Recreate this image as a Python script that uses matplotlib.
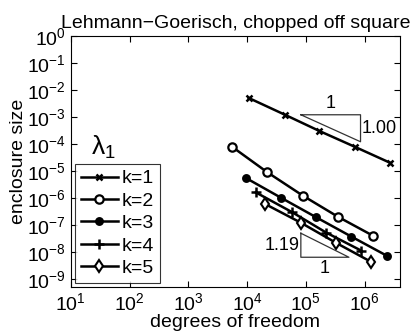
import matplotlib
matplotlib.use("Agg")
import matplotlib.pyplot as plt
import numpy as np

plt.rcParams['font.family'] = ['Liberation Sans', 'DejaVu Sans']
plt.rcParams['mathtext.fontset'] = 'custom'
plt.rcParams['mathtext.rm'] = 'Liberation Sans'
plt.rcParams['mathtext.it'] = 'Liberation Sans:italic'
plt.rcParams['mathtext.default'] = 'regular'

labels = ['k=1', 'k=2', 'k=3', 'k=4', 'k=5']
dof_k1 = [1.07e4, 4.4e4, 1.7e5, 6.8e5, 2.7e6]
err_k1 = [5.0e-3, 1.2e-3, 3.0e-4, 7.8e-5, 2.0e-5]
dof_k2 = [5.5e3, 2.2e4, 8.9e4, 3.5e5, 1.4e6]
err_k2 = [7.9e-5, 8.9e-6, 1.2e-6, 2.0e-7, 3.9e-8]
dof_k3 = [9.6e3, 3.8e4, 1.5e5, 5.9e5, 2.4e6]
err_k3 = [5.4e-6, 1.0e-6, 1.9e-7, 3.7e-8, 7.1e-9]
dof_k4 = [1.4e4, 5.9e4, 2.2e5, 8.8e5]
err_k4 = [1.6e-6, 2.9e-7, 5.2e-8, 1.1e-8]
dof_k5 = [2.0e4, 8.2e4, 3.2e5, 1.3e6]
err_k5 = [6.0e-7, 1.2e-7, 2.2e-8, 4.2e-9]

# slope triangles
tri1_x = [8.2e4, 8.5e5, 8.5e5, 8.2e4]
tri1_y = [1.2e-3, 1.2e-3, 1.2e-4, 1.2e-3]
tri2_x = [8.2e4, 8.2e4, 5.4e5, 8.2e4]
tri2_y = [4.9e-8, 6.3e-9, 6.3e-9, 4.9e-8]

fig = plt.figure(figsize=(4.12, 3.36), dpi=100)
ax = fig.add_axes([0.172, 0.146, 0.799, 0.747])

series = [(dof_k1, err_k1, dict(marker='x', mfc='black', ms=4.5, mew=1.8)),
          (dof_k2, err_k2, dict(marker='o', mfc='white', ms=6, mew=1.6)),
          (dof_k3, err_k3, dict(marker='o', mfc='black', ms=5, mew=1.4)),
          (dof_k4, err_k4, dict(marker='+', mfc='black', ms=7, mew=1.8)),
          (dof_k5, err_k5, dict(marker='d', mfc='white', ms=6.5, mew=1.5))]
for (x, y, st), lab in zip(series, labels):
    ax.loglog(x, y, color='black', lw=1.8, mec='black', label=lab, **st)

ax.plot(tri1_x, tri1_y, color='#333333', lw=0.9)
ax.plot(tri2_x, tri2_y, color='#333333', lw=0.9)
ax.text(2.65e5, 1.5e-3, '1', fontsize=13, ha='center', va='bottom')
ax.text(8.8e5, 3.8e-4, '1.00', fontsize=13, ha='left', va='center')
ax.text(7.8e4, 1.75e-8, '1.19', fontsize=13, ha='right', va='center')
ax.text(2.1e5, 5.0e-9, '1', fontsize=13, ha='center', va='top')

ax.set_xlim(1e1, 4e6)
ax.set_ylim(5e-10, 1e0)
ax.set_xticks([1e1, 1e2, 1e3, 1e4, 1e5, 1e6])
ax.set_yticks([10.0**p for p in range(-9, 1)])
ax.tick_params(which='both', direction='in', top=True, right=True, labelsize=14)
ax.tick_params(which='major', length=4)
ax.tick_params(which='minor', length=2)
ax.set_xlabel('degrees of freedom', fontsize=14, labelpad=0)
ax.set_ylabel('enclosure size', fontsize=14, labelpad=0)
ax.set_title('Lehmann\u2212Goerisch, chopped off square', fontsize=14, pad=6)

leg = ax.legend(loc='lower left', fontsize=14, frameon=True, fancybox=False,
                edgecolor='black', handlelength=1.9, handletextpad=0.2,
                borderpad=0.3, labelspacing=0.25, borderaxespad=0.2)
leg.get_frame().set_linewidth(0.8)
ax.text(0.06, 0.50, r'$\lambda_1$', transform=ax.transAxes, fontsize=19,
        math_fontfamily='cm', ha='left', va='bottom')

fig.savefig('out.png', dpi=100)
